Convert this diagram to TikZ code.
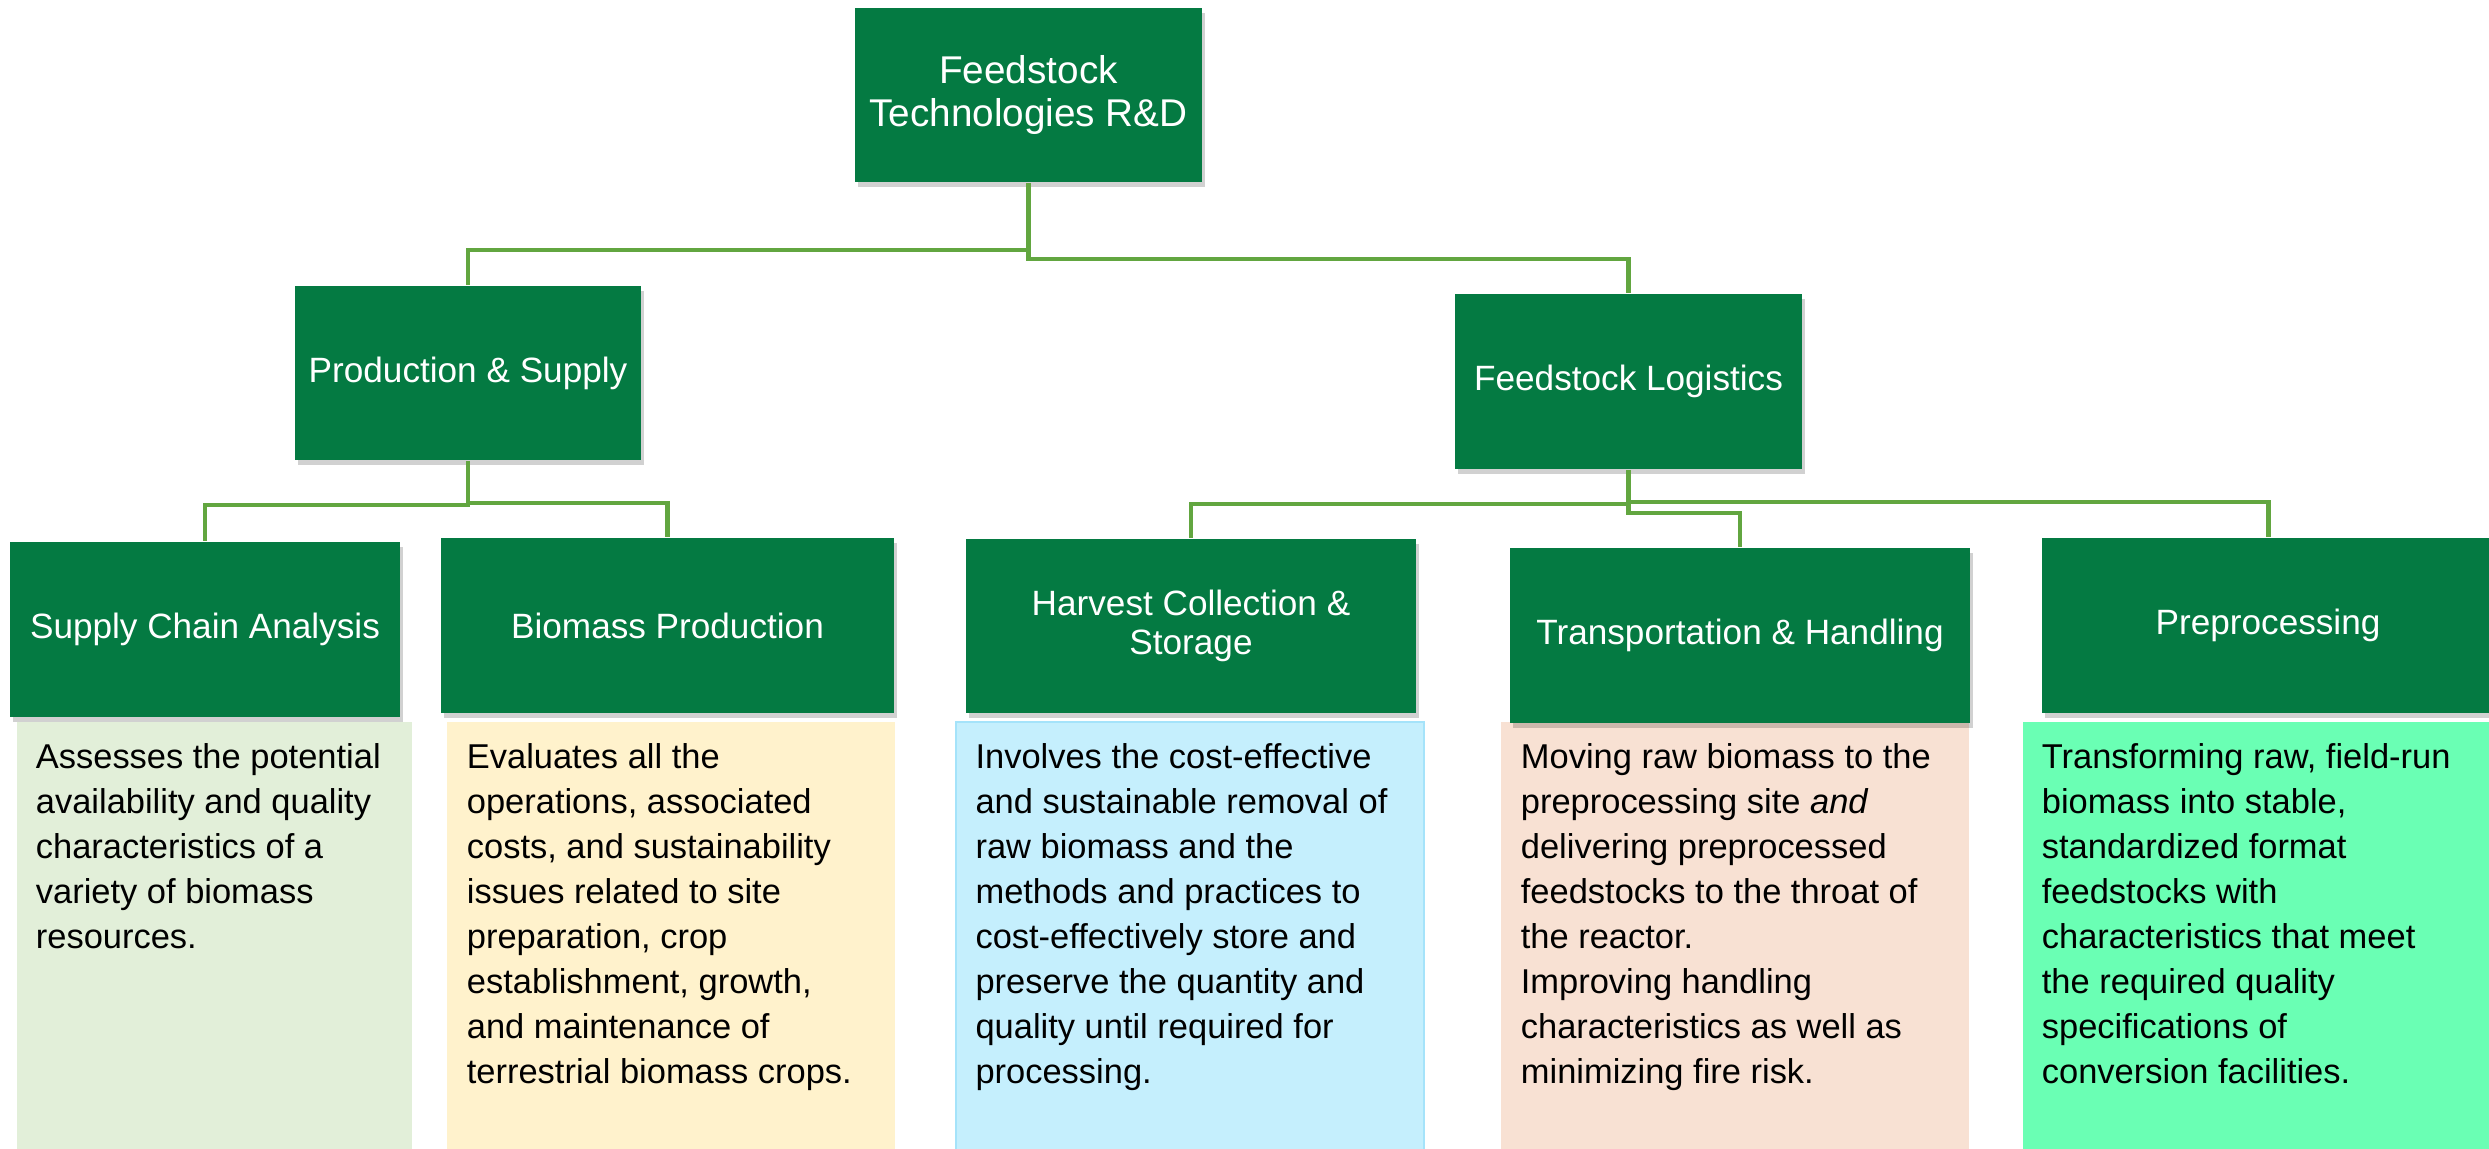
\documentclass[tikz,border=0pt]{standalone}
\usepackage{fontspec}
\setmainfont{Liberation Sans}
\usetikzlibrary{positioning}
\usetikzlibrary{shadows}
\definecolor{boxgreen}{RGB}{4,122,66}
\definecolor{linegreen}{RGB}{98,166,64}
\definecolor{descgreen}{RGB}{226,239,217}
\definecolor{descyellow}{RGB}{255,242,204}
\definecolor{descblue}{RGB}{197,239,253}
\definecolor{descblueline}{RGB}{165,227,250}
\definecolor{descpeach}{RGB}{248,225,211}
\definecolor{descmint}{RGB}{106,255,180}

\begin{document}
\begin{tikzpicture}[x=0.01cm, y=-0.01cm,
  head/.style={fill=boxgreen, text=white, align=center, inner sep=0pt,
    font=\fontsize{10}{11}\selectfont,
    drop shadow={shadow xshift=0.3mm, shadow yshift=-0.5mm, opacity=0.18, fill=black}},
  desc/.style={inner sep=0pt, minimum height=4.28cm},
  desctext/.style={align=left, inner sep=0pt, font=\fontsize{9.8}{12.8}\selectfont},
  conn/.style={linegreen, line width=1.4pt}]

\useasboundingbox (0,0) rectangle (2489,1148);

% description boxes
{
\node[desc, fill=descgreen, minimum width=3.95cm] (scad) at (214.5,936) {};
\node[desc, fill=descyellow, minimum width=4.48cm] (bpd) at (671,936) {};
\node[desc, fill=descblue, draw=descblueline, line width=0.6pt, minimum width=4.68cm] (hcsd) at (1190,936) {};
\node[desc, fill=descpeach, minimum width=4.68cm] (thd) at (1735,936) {};
\node[desc, fill=descmint, minimum width=4.72cm] (pred) at (2259,936) {};
}

% green boxes
{
\node[head, font=\fontsize{11}{12.4}\selectfont, minimum width=3.47cm, minimum height=1.74cm] (top) at (1028.5,95) {Feedstock\\Technologies R\&D};

\node[head, minimum width=3.46cm, minimum height=1.74cm] (ps) at (468,373) {Production \& Supply};
\node[head, minimum width=3.47cm, minimum height=1.75cm] (fl) at (1628.5,381.5) {Feedstock Logistics};

\node[head, minimum width=3.90cm, minimum height=1.75cm] (sca) at (205,629.5) {Supply Chain Analysis};
\node[head, minimum width=4.53cm, minimum height=1.75cm] (bp) at (667.5,625.5) {Biomass Production};
\node[head, minimum width=4.50cm, minimum height=1.74cm] (hcs) at (1191,626) {Harvest Collection \&\\Storage};
\node[head, minimum width=4.60cm, minimum height=1.75cm] (th) at (1740,635.5) {Transportation \& Handling};
\node[head, minimum width=4.52cm, minimum height=1.75cm] (pre) at (2268,625.5) {Preprocessing};
}

% lines
{
\draw[conn] (top.south) -- (top.south |- 0,250) -| (ps.north);
\draw[conn] (top.south |- 0,250) -- (top.south |- 0,259) -| (fl.north);

\draw[conn] (ps.south) -- (ps.south |- 0,505) -| (sca.north);
\draw[conn] (ps.south |- 0,503) -| (bp.north);

\draw[conn] (fl.south) -- (fl.south |- 0,513) -| (th.north);
\draw[conn] (fl.south |- 0,504) -| (hcs.north);
\draw[conn] (fl.south |- 0,502) -| (pre.north);
}

% texts
{
\node[desctext, below right=0.22cm and 0.19cm of scad.north west] (scat)
{Assesses the potential\\availability and quality\\characteristics of a\\variety of biomass\\resources.};

\node[desctext, below right=0.22cm and 0.2cm of bpd.north west] (bpt)
{Evaluates all the\\operations, associated\\costs, and sustainability\\issues related to site\\preparation, crop\\establishment, growth,\\and maintenance of\\terrestrial biomass crops.};

\node[desctext, below right=0.22cm and 0.2cm of hcsd.north west] (hcst)
{Involves the cost-effective\\and sustainable removal of\\raw biomass and the\\methods and practices to\\cost-effectively store and\\preserve the quantity and\\quality until required for\\processing.};

\node[desctext, below right=0.22cm and 0.2cm of thd.north west] (tht)
{Moving raw biomass to the\\preprocessing site \textit{and}\\delivering preprocessed\\feedstocks to the throat of\\the reactor.\\Improving handling\\characteristics as well as\\minimizing fire risk.};

\node[desctext, below right=0.22cm and 0.19cm of pred.north west] (pret)
{Transforming raw, field-run\\biomass into stable,\\standardized format\\feedstocks with\\characteristics that meet\\the required quality\\specifications of\\conversion facilities.};
}

\end{tikzpicture}
\end{document}
